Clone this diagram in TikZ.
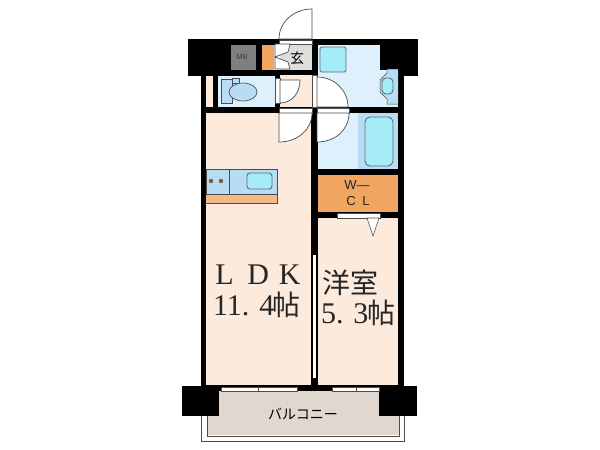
\documentclass[tikz,border=0pt]{standalone}
\usepackage{fontspec}
\setmainfont{Liberation Serif}
\newfontfamily\cjk{Noto Sans CJK JP}
\newfontfamily\plainsans{Liberation Sans}
\definecolor{peach}{HTML}{FCEADC}
\definecolor{paleblue}{HTML}{DDF0FC}
\definecolor{midblue}{HTML}{B9DCF5}
\definecolor{water}{HTML}{A6ECF7}
\definecolor{closet}{HTML}{F0A560}
\definecolor{balcony}{HTML}{E0D7CE}
\definecolor{lineblue}{HTML}{5A6A75}
\tikzset{
    wall/.style={fill=black},
    leaf/.style={draw=black!70,fill=white,line width=.7pt},
    fitting/.style={draw=lineblue,line width=.9pt,fill=water},
    pane/.style={draw=black!70,fill=white,line width=.6pt},
    roomlabel/.style={font=\fontsize{30}{30}\selectfont,inner sep=0pt,text=black!85},
    roomcjk/.style={font=\cjk\fontsize{28}{28}\selectfont,inner sep=0pt,text=black!85},
    closetlabel/.style={font=\plainsans\fontsize{13}{13}\selectfont,inner sep=0pt,text=black!85},
}
\begin{document}
\begin{tikzpicture}[x=1pt,y=-1pt]
    \useasboundingbox[fill=white] (0,0) rectangle (600,450);

    % balcony
    \draw[black!70,line width=.9pt] (201,416) -- (201,441) -- (404,441) -- (404,416);
    \fill[balcony] (207,391) rectangle (399,435);
    \draw[black!70,line width=.9pt] (207,416) -- (207,436) -- (399,436) -- (399,416);

    % walls
    \fill[wall] (201,70) rectangle (404,390);
    \fill[wall] (188,39) rectangle (418,76);
    \fill[wall] (182,386) rectangle (219,416);
    \fill[wall] (379,386) rectangle (417,416);
    \fill[wall] (219,386) rectangle (379,391);

    % rooms
    \fill[peach] (206,113) rectangle (311,385);
    \fill[peach] (318,218) rectangle (398,385);
    \fill[peach] (206,76) rectangle (213,107);
    \fill[peach] (280,75) rectangle (312,107);
    \fill[paleblue] (218,76) rectangle (275,107);
    \fill[paleblue] (318,45) rectangle (380,107);
    \fill[paleblue] (380,70) rectangle (398,107);
    \fill[paleblue] (318,113) rectangle (358,169);
    \fill[midblue] (358,113) rectangle (398,169);
    \fill[closet] (318,175) rectangle (398,212);
    \fill[black!50] (231,45) rectangle (256,70);
    \fill[closet] (262,45) rectangle (274,70);
    \fill[black!13] (280,45) rectangle (312,70);
    \fill[white] (274,45) rectangle (280,70);
    \fill[white] (313,255) rectangle (316,378);

    % windows
    \draw[pane] (221,387) rectangle (258,391);
    \draw[pane] (258,387) rectangle (297,391);
    \draw[pane] (332,387) rectangle (356,391);
    \draw[pane] (356,387) rectangle (379,391);
    \draw[pane] (337,213) rectangle (380,218);
    \draw[pane] (367,218) -- (379,218) -- (373,236) -- cycle;

    % doors
    \draw[leaf] (312,39) -- (312,9) .. controls (294,9) and (279,22) .. (279,39) -- cycle;
    \draw[leaf] (279,40) rectangle (312,44);
    \draw[leaf] (279,108) rectangle (312,113);
    \draw[leaf] (317,108) rectangle (349,113);
    \draw[leaf] (312,75) rectangle (317,107);
    \draw[leaf] (275,78) rectangle (280,103);
    \draw[leaf] (279,113) -- (279,142) .. controls (297,142) and (312,130) .. (312,113) -- cycle;
    \draw[leaf] (317,113) -- (317,142) .. controls (335,142) and (349,130) .. (349,113) -- cycle;
    \draw[leaf] (317,77) .. controls (334,77) and (348,90) .. (348,107) -- (317,107) -- cycle;
    \draw[leaf] (280,80) -- (300,80) .. controls (300,93) and (292,103) .. (280,103) -- cycle;
    \draw[leaf] (275,44) -- (290,44) -- (288,52) -- (275,57) -- cycle;
    \draw[leaf] (275,57) -- (288,62) -- (290,69) -- (275,69) -- cycle;

    % toilet
    \draw[black!70,fill=midblue,line width=.7pt] (221,79) rectangle (232,103);
    \draw[black!70,fill=midblue,line width=.7pt] (232,78) rectangle (239,83);
    \draw[black!70,fill=midblue,line width=.7pt] (243,92) ellipse (14 and 9);

    % washroom
    \draw[fitting,rounded corners=1.5pt] (320,47) rectangle (346,72);
    \draw[black!70,fill=midblue,line width=.5pt] (398,69) -- (387,69) -- (387,73) -- (380,80) -- (380,92) -- (387,99) -- (387,104) -- (398,104);
    \draw[fitting,rounded corners=4pt] (382,78) rectangle (393,94);

    % bath
    \draw[fitting,rounded corners=5pt] (365,117) rectangle (393,166);

    % kitchen
    \fill[closet!70!peach] (206,194) rectangle (277,203);
    \draw[black!70,fill=midblue,line width=.7pt] (206,169) rectangle (277,194);
    \draw[black!70,line width=.7pt] (229,169) -- (229,194);
    \draw[black!70,line width=.7pt] (206,203) -- (277,203) -- (277,194);
    \draw[fitting,rounded corners=3pt] (247,173) rectangle (272,189);
    \fill[brown!70!black] (211,181) circle (2.2);
    \fill[brown!70!black] (221,181) circle (2.2);

    % labels
    \node[font=\plainsans\fontsize{7.5}{8}\selectfont,text=black!75,inner sep=0pt] (mb) at (242,57) {MB};
    \node[font=\cjk\fontsize{14}{14}\selectfont,inner sep=0pt] (entry) at (297,58) {玄};
    \node[closetlabel] (wcltop) at (357,185) {W—};
    \node[closetlabel] (wclbottom) at (358,201) {C\hspace{.5em}L};
    \node[roomlabel] (ldk) at (258,275) {L\hspace{.45em}D\hspace{.33em}K};
    \node[roomlabel] (ldksize) at (257,305) {11. 4\hspace{-.05em}{\cjk\fontsize{28}{28}\selectfont 帖}};
    \node[roomcjk] (room) at (350,283) {洋室};
    \node[roomlabel] (roomsize) at (358,313) {5. 3\hspace{-.05em}{\cjk\fontsize{28}{28}\selectfont 帖}};
    \node[font=\cjk\fontsize{14}{14}\selectfont,inner sep=0pt] (balconylabel) at (303,414) {バルコニー};
\end{tikzpicture}
\end{document}
